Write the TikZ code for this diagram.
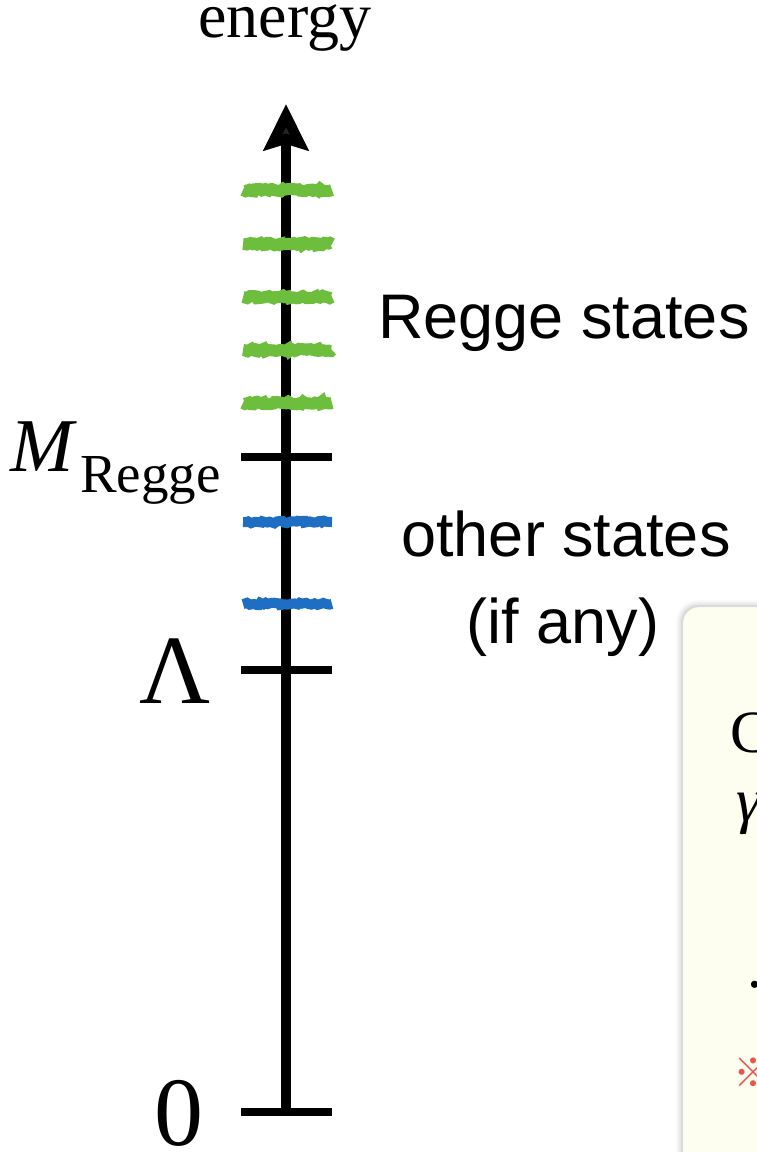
\documentclass[tikz,border=0pt]{standalone}
\usepackage{fontspec}
\setmainfont{Liberation Serif}
\setsansfont{Liberation Sans}
\newfontfamily\cjkfont{Noto Sans CJK JP}
\usetikzlibrary{arrows.meta,decorations.pathmorphing,shadows.blur,positioning}
\definecolor{reggegreen}{RGB}{108,190,60}
\definecolor{otherblue}{RGB}{30,110,196}
\definecolor{notecream}{RGB}{253,253,240}
\definecolor{notered}{RGB}{232,85,75}
\begin{document}
\begin{tikzpicture}[x=1pt,y=-1pt,
  level/.style={line width=8pt},
  chalk/.style={line width=10pt,decorate,decoration={random steps,segment length=2.5pt,amplitude=1.3pt}},
  lab/.style={font=\sffamily\fontsize{63}{70}\selectfont,inner sep=0pt},
  sym/.style={inner sep=0pt}]
\useasboundingbox (0,0) rectangle (757,1152);
\clip (0,0) rectangle (757,1152);
% note box, cut off at the right
\draw[fill=notecream,draw=black!8,rounded corners=16pt,
  blur shadow={shadow xshift=-1pt,shadow yshift=1pt,shadow blur radius=6pt,shadow opacity=30}]
  (683,607) rectangle (820,1220);
\node[sym,anchor=base west,font=\fontsize{60}{64}\selectfont] (boxc) at (730,752) {C};
\node[sym,anchor=base west,font=\itshape\fontsize{62}{64}\selectfont] (boxg) at (736,821) {γ};
\node[sym,anchor=base west,font=\fontsize{60}{64}\selectfont] (boxdot) at (747,987) {.};
\node[sym,anchor=west,text=notered,font=\cjkfont\fontsize{40}{44}\selectfont] (boxmark) at (733,1073) {※};
% axis
\coordinate (zero) at (286,1112);
\coordinate (lam) at (286,670);
\coordinate (mregge) at (286,457);
\coordinate (top) at (286,104);
\draw[line width=10pt,-{Stealth[length=46pt,width=44pt,inset=6pt]}] (zero) -- (top);
\draw[level] ([xshift=-45pt]zero) -- ([xshift=46pt]zero);
\draw[level] ([xshift=-45pt]lam) -- ([xshift=46pt]lam);
\draw[level] ([xshift=-45pt]mregge) -- ([xshift=46pt]mregge);
% states
\foreach \y in {190,244,297,350,403}
  \draw[chalk,line width=12pt,reggegreen] (243,\y) -- (332,\y);
\foreach \y in {522,604}
  \draw[chalk,otherblue] (243,\y) -- (332,\y);
% labels
\node[sym,anchor=base,font=\fontsize{64}{70}\selectfont] (energy) at (285,37) {energy};
\node[sym,font=\fontsize{98}{100}\selectfont] (zerolab) at (179,1113) {0};
\node[sym,font=\fontsize{98}{100}\selectfont] (lamlab) at (175,671) {Λ};
\node[sym,anchor=base west,font=\itshape\fontsize{76}{80}\selectfont] (mlab) at (10,471) {M};
\node[sym,anchor=base west,font=\fontsize{55}{60}\selectfont] (mlabsub) at (80,492) {Regge};
\node[lab,anchor=base] (regge) at (564,338) {Regge states};
\node[lab,anchor=base] (other) at (566,556) {other states};
\node[lab,anchor=base] (ifany) at (563,643) {(if any)};
\end{tikzpicture}
\end{document}
